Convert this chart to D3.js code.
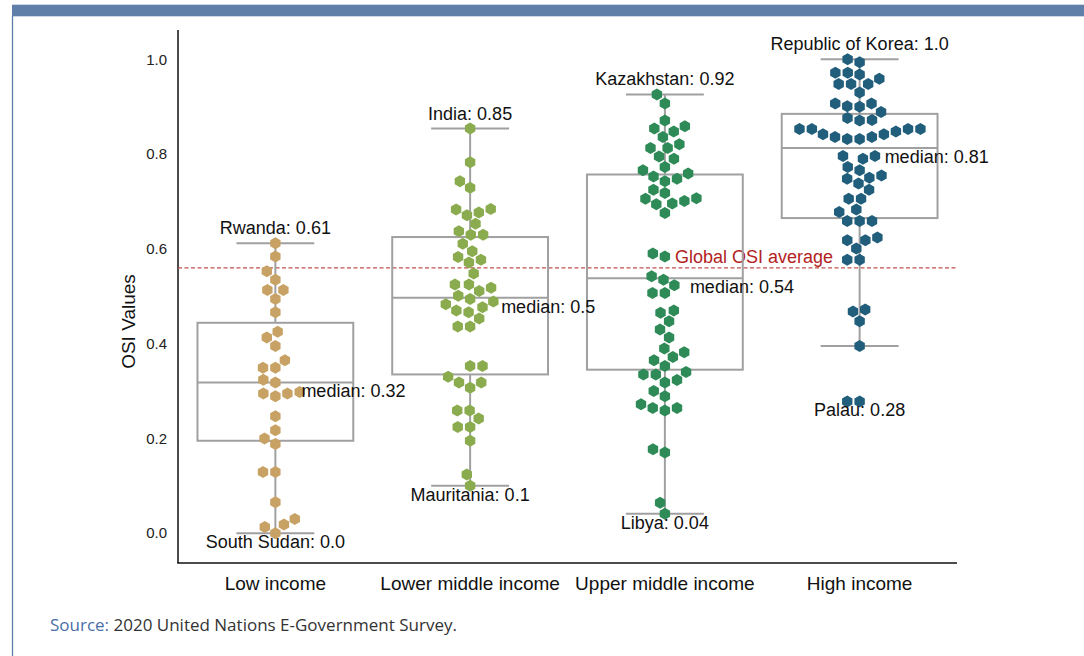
<!DOCTYPE html>
<html><head><meta charset="utf-8">
<script src="https://cdn.jsdelivr.net/npm/d3@7"></script>
<style>
body{margin:0;background:#fff;}
svg{display:block;font-family:"Liberation Sans",Arial,Helvetica,sans-serif;}
</style>
</head><body>
<svg id="chart" width="1084" height="656"></svg>
<script>
// ---------- DATA ----------
const categories = ["Low income", "Lower middle income", "Upper middle income", "High income"];
const colors = ["#c8a264", "#8aac4e", "#2e8b57", "#215e7c"];

const lowIncome = [0.612,0.584,0.553,0.535,0.513,0.513,0.494,0.466,0.425,0.413,0.395,0.365,0.349,0.349,
  0.324,0.318,0.298,0.295,0.289,0.295,0.247,0.217,0.200,0.188,0.129,0.129,0.065,0.030,0.018,0.013,0.0];
const lowerMiddleIncome = [0.854,0.783,0.743,0.729,0.684,0.671,0.677,0.683,0.653,0.637,0.630,0.630,0.611,
  0.595,0.571,0.577,0.583,0.548,0.525,0.525,0.518,0.511,0.501,0.494,0.489,0.483,0.477,0.470,0.466,0.453,
  0.436,0.436,0.353,0.353,0.330,0.318,0.318,0.307,0.259,0.259,0.242,0.224,0.224,0.195,0.124,0.100];
const upperMiddleIncome = [0.926,0.907,0.871,0.859,0.854,0.848,0.836,0.821,0.813,0.813,0.795,0.790,0.773,
  0.766,0.759,0.753,0.748,0.743,0.725,0.718,0.707,0.706,0.701,0.696,0.694,0.676,0.590,0.584,0.542,0.535,
  0.523,0.507,0.507,0.470,0.465,0.447,0.430,0.413,0.390,0.382,0.372,0.365,0.353,0.340,0.335,0.335,0.323,
  0.318,0.300,0.289,0.272,0.264,0.264,0.259,0.177,0.170,0.064,0.041];
const highIncome = [1.000,0.994,0.972,0.968,0.972,0.959,0.948,0.948,0.948,0.930,0.907,0.901,0.900,0.907,
  0.889,0.876,0.871,0.872,0.853,0.853,0.853,0.853,0.842,0.848,0.836,0.832,0.832,0.836,0.842,0.790,0.796,
  0.796,0.773,0.766,0.750,0.748,0.755,0.738,0.725,0.706,0.706,0.683,0.678,0.659,0.659,0.659,0.618,0.618,
  0.624,0.601,0.577,0.577,0.468,0.472,0.447,0.395,0.278,0.278];
const seriesValues = [lowIncome, lowerMiddleIncome, upperMiddleIncome, highIncome];

// box statistics
const boxQ1     = [0.195, 0.335, 0.345, 0.665];
const boxMedian = [0.318, 0.497, 0.538, 0.813];
const boxQ3     = [0.444, 0.625, 0.757, 0.885];
const whiskerLo = [0.0, 0.100, 0.041, 0.395];
const whiskerHi = [0.612, 0.854, 0.926, 1.0];

// annotations
const maxLabels = ["Rwanda: 0.61", "India: 0.85", "Kazakhstan: 0.92", "Republic of Korea: 1.0"];
const maxLabelValues = [0.612, 0.854, 0.926, 1.0];
const minLabels = ["South Sudan: 0.0", "Mauritania: 0.1", "Libya: 0.04", "Palau: 0.28"];
const minLabelValues = [0.0, 0.100, 0.041, 0.278];
const medianLabels = ["median: 0.32", "median: 0.5", "median: 0.54", "median: 0.81"];

const globalAverage = 0.56;
const globalAverageLabel = "Global OSI average";
const yTicks = [0.0, 0.2, 0.4, 0.6, 0.8, 1.0];
const yAxisTitle = "OSI Values";
const sourceLabel = "Source:";
const sourceText = " 2020 United Nations E-Government Survey.";

// ---------- LAYOUT ----------
const medianLabelDx = [26, 31, 25, 25];

// ---------- CHART ----------
const svg = d3.select("#chart");

// frame decorations
svg.append("rect").attr("x", 12).attr("y", 4).attr("width", 1072).attr("height", 13).attr("fill", "#c9d6e6");
svg.append("rect").attr("x", 12).attr("y", 5).attr("width", 1072).attr("height", 11).attr("fill", "#5f7ea8");
svg.append("line").attr("x1", 12.5).attr("x2", 12.5).attr("y1", 16).attr("y2", 656)
  .attr("stroke", "#5f7ea8").attr("stroke-width", 1.3);

const plot = {left: 178, right: 957, top: 30, bottom: 563};

const x = d3.scaleBand().domain(categories).range([plot.left, plot.right]).padding(0);
const y = d3.scaleLinear().domain([-0.063, 1.062]).range([plot.bottom, plot.top]);

// axes (spines only, no tick marks)
const yAxis = d3.axisLeft(y).tickValues(yTicks).tickFormat(d3.format(".1f")).tickSize(0).tickPadding(11);
const gy = svg.append("g").attr("transform", `translate(${plot.left},0)`).call(yAxis);
gy.select(".domain").remove();
gy.selectAll("text").attr("font-size", 15).attr("fill", "#222").attr("font-family", "'Liberation Sans',Arial,sans-serif");

const xAxis = d3.axisBottom(x).tickSize(0).tickPadding(14);
const gx = svg.append("g").attr("transform", `translate(0,${plot.bottom})`).call(xAxis);
gx.select(".domain").remove();
gx.selectAll("text").attr("font-size", 19).attr("fill", "#111").attr("font-family", "'Liberation Sans',Arial,sans-serif");

svg.append("line").attr("x1", plot.left).attr("x2", plot.left).attr("y1", plot.top).attr("y2", plot.bottom)
  .attr("stroke", "#111").attr("stroke-width", 1.5);
svg.append("line").attr("x1", plot.left - 0.75).attr("x2", plot.right).attr("y1", plot.bottom).attr("y2", plot.bottom)
  .attr("stroke", "#111").attr("stroke-width", 1.5);

svg.append("text").attr("transform", `translate(135,${(plot.top + plot.bottom) / 2 + 25}) rotate(-90)`)
  .attr("text-anchor", "middle").attr("font-size", 19).attr("fill", "#111").text(yAxisTitle);

// global average line
svg.append("line").attr("x1", plot.left).attr("x2", plot.right)
  .attr("y1", y(globalAverage)).attr("y2", y(globalAverage))
  .attr("stroke", "#c0504d").attr("stroke-width", 1.1).attr("stroke-dasharray", "4,2.5");
svg.append("text").attr("x", x(categories[2]) + x.bandwidth() / 2 + 10).attr("y", y(globalAverage) - 5)
  .attr("font-size", 18).attr("fill", "#b22222").text(globalAverageLabel);

// boxes
const boxW = x.bandwidth() * 0.8;
const capW = boxW * 0.5;
const gray = "#a0a0a0";
categories.forEach((c, i) => {
  const cx = x(c) + x.bandwidth() / 2;
  const g = svg.append("g");
  g.append("line").attr("x1", cx).attr("x2", cx).attr("y1", y(boxQ3[i])).attr("y2", y(whiskerHi[i]))
    .attr("stroke", gray).attr("stroke-width", 2);
  g.append("line").attr("x1", cx).attr("x2", cx).attr("y1", y(boxQ1[i])).attr("y2", y(whiskerLo[i]))
    .attr("stroke", gray).attr("stroke-width", 2);
  g.append("line").attr("x1", cx - capW / 2).attr("x2", cx + capW / 2).attr("y1", y(whiskerHi[i])).attr("y2", y(whiskerHi[i]))
    .attr("stroke", gray).attr("stroke-width", 2);
  g.append("line").attr("x1", cx - capW / 2).attr("x2", cx + capW / 2).attr("y1", y(whiskerLo[i])).attr("y2", y(whiskerLo[i]))
    .attr("stroke", gray).attr("stroke-width", 2);
  g.append("rect").attr("x", cx - boxW / 2).attr("width", boxW)
    .attr("y", y(boxQ3[i])).attr("height", y(boxQ1[i]) - y(boxQ3[i]))
    .attr("fill", "none").attr("stroke", gray).attr("stroke-width", 2);
  g.append("line").attr("x1", cx - boxW / 2).attr("x2", cx + boxW / 2).attr("y1", y(boxMedian[i])).attr("y2", y(boxMedian[i]))
    .attr("stroke", gray).attr("stroke-width", 2);
});

// swarm layout (seaborn-like)
function beeswarm(values, cx, d) {
  const pts = values.map(v => ({v, y: y(v), x: cx})).sort((a, b) => a.v - b.v);
  const placed = [];
  for (const p of pts) {
    const neigh = placed.filter(q => Math.abs(q.y - p.y) < d);
    const cands = [cx];
    let leftFirst = true;
    for (const q of neigh) {
      const dy = p.y - q.y;
      const dx = Math.sqrt(Math.max(d * d - dy * dy, 0)) * 1.05;
      if (leftFirst) cands.push(q.x - dx, q.x + dx); else cands.push(q.x + dx, q.x - dx);
      leftFirst = !leftFirst;
    }
    const order = cands.map((c, k) => ({c, k})).sort((a, b) => (Math.abs(a.c - cx) - Math.abs(b.c - cx)) || (a.k - b.k));
    for (const o of order) {
      if (neigh.every(q => (q.x - o.c) ** 2 + (q.y - p.y) ** 2 >= d * d - 1e-6)) { p.x = o.c; break; }
    }
    placed.push(p);
  }
  return placed;
}

const hexR = 6;
const hexPath = d3.range(6).map(k => {
  const a = (-90 + 60 * k) * Math.PI / 180;
  return [hexR * Math.cos(a), hexR * Math.sin(a)];
});
const hexD = "M" + hexPath.map(p => p.join(",")).join("L") + "Z";

categories.forEach((c, i) => {
  const cx = x(c) + x.bandwidth() / 2;
  const pts = beeswarm(seriesValues[i], cx, 11.8);
  svg.append("g").selectAll("path").data(pts).join("path")
    .attr("d", hexD).attr("transform", d => `translate(${d.x},${d.y})`)
    .attr("fill", colors[i]);
});

// annotations
categories.forEach((c, i) => {
  const cx = x(c) + x.bandwidth() / 2;
  svg.append("text").attr("x", cx).attr("y", y(maxLabelValues[i]) - 9).attr("text-anchor", "middle")
    .attr("font-size", 18).attr("fill", "#111").text(maxLabels[i]);
  svg.append("text").attr("x", cx).attr("y", y(minLabelValues[i]) + 15).attr("text-anchor", "middle")
    .attr("font-size", 18).attr("fill", "#111").text(minLabels[i]);
  svg.append("text").attr("x", cx + medianLabelDx[i]).attr("y", y(boxMedian[i]) + 15)
    .attr("font-size", 18).attr("fill", "#111").text(medianLabels[i]);
});

// source
const src = svg.append("text").attr("x", 50).attr("y", 631)
  .attr("font-family", "'Open Sans','Noto Sans',sans-serif").attr("font-size", 17);
src.append("tspan").attr("fill", "#4a6ea8").text(sourceLabel);
src.append("tspan").attr("fill", "#333").text(sourceText);
</script>
</body></html>
